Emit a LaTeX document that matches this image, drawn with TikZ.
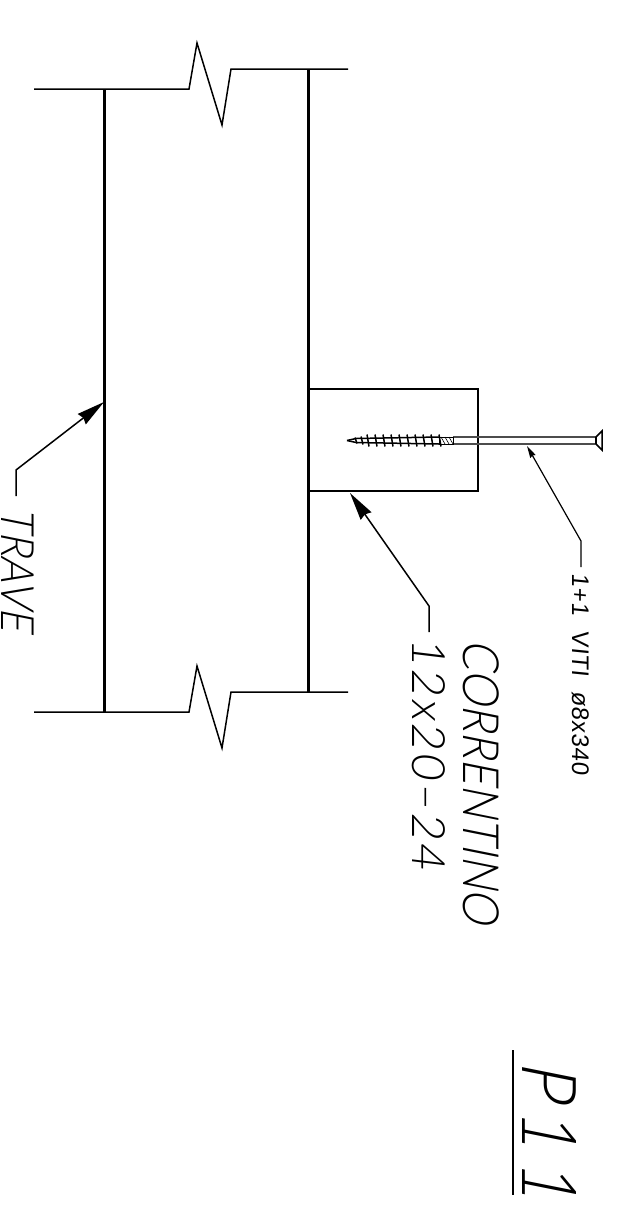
\documentclass[tikz,border=0pt]{standalone}
\usepackage{fontspec}
\usepackage{tikz}
\usetikzlibrary{arrows.meta}
\newfontfamily\cadfont[FakeSlant=0.2, FakeStretch=0.89]{Lato Light}
\newfontfamily\numfont[FakeSlant=0.12, LetterSpace=7]{Lato Light}
\newfontfamily\smallfont[FakeSlant=0.1, LetterSpace=3]{Liberation Sans}

\begin{document}
\begin{tikzpicture}[
            x=0.5pt,
            y=-0.5pt,
            declare function={
                BeamA = 104;
                BeamB = 308;
                LeftEnd = 34;
                RightEnd = 348;
                TopA = 89;
                TopB = 69;
                BotA = 712;
                BotB = 692;
                ScrewY = 440.5;
            },
            beam/.style={line width=1.5pt},
            thin line/.style={line width=0.75pt},
            leader/.style={line width=0.75pt, -{Stealth[length=14pt, width=6.5pt, inset=1pt]}},
            small leader/.style={line width=0.6pt, -{Stealth[length=6pt, width=3pt, inset=0.5pt]}},
            cad label/.style={rotate=-90, anchor=base west, inner sep=0pt, font=\cadfont}
        ]
            \useasboundingbox (0, 0) rectangle (637, 1216);

            % beam edges
            \draw[beam] (BeamA, TopA) -- (BeamA, BotA);
            \draw[beam] (BeamB, TopB) -- (BeamB, BotB);

            % break lines
            \foreach \ya/\yb in {TopA/TopB, BotA/BotB} {
                \draw[thin line] (LeftEnd, \ya) -- (189, \ya) -- (197, {\yb - 26})
                    -- (222, {\yb + 56}) -- (231, \yb) -- (RightEnd, \yb);
            }

            % purlin
            \draw[thin line] (BeamB, 389) -- (478, 389) -- (478, 491) -- (BeamB, 491);

            % screw shank and head
            \draw[thin line, draw=black!70] (453, {ScrewY - 3.5}) -- (596, {ScrewY - 3.5});
            \draw[thin line, draw=black!70] (453, {ScrewY + 3.5}) -- (596, {ScrewY + 3.5});
            \draw[thin line] (596, {ScrewY - 3.5}) -- (596, {ScrewY + 3.5});
            \draw[thin line] (596, {ScrewY - 3.5}) -- (602, {ScrewY - 9.5}) -- (602, {ScrewY + 9.5}) -- (596, {ScrewY + 3.5});

            % screw thread
            \draw[line width=0.4pt] (439, {ScrewY - 3.5}) -- (453, {ScrewY - 3.5}) -- (453, {ScrewY + 3.5}) -- (439, {ScrewY + 3.5}) -- cycle;
            \foreach \k in {0,1,2} {
                \draw[line width=0.3pt] ({441 + 4 * \k}, {ScrewY - 3.5}) -- ({445 + 4 * \k}, {ScrewY + 3.5});
            }
            \foreach \x in {368,376,...,440} {
                \draw[line width=0.75pt] ({\x - 1}, {ScrewY - 6}) -- ({\x + 1}, {ScrewY + 6});
            }
            \draw[thin line] (347, ScrewY) -- (356, {ScrewY - 2}) -- (439, {ScrewY - 3.5});
            \draw[thin line] (347, ScrewY) -- (356, {ScrewY + 2}) -- (439, {ScrewY + 3.5});
            \draw[line width=0.75pt] (355, {ScrewY - 3}) -- (357, {ScrewY + 3});
            \draw[line width=0.75pt] (361, {ScrewY - 4}) -- (363, {ScrewY + 4});

            % labels
            \node[cad label, font=\cadfont\fontsize{23}{23}\selectfont] (trave) at (2, 507) {TRAVE};
            \node[cad label, font=\cadfont\fontsize{25}{25}\selectfont] (correntino) at (463, 639) {CORRENTINO};
            \node[cad label, font=\numfont\fontsize{23}{23}\selectfont] (size) at (412, 638) {12x20–24};
            \node[cad label, font=\smallfont\fontsize{12}{12}\selectfont] (viti) at (572, 573) {1+1\ \ VITI\ \ ø8x340};
            \node[cad label, font=\cadfont\fontsize{38}{38}\selectfont] (pnum) at (522, 1060) {P\kern5pt 1\kern6pt 1};

            % leaders
            \coordinate (trave tip) at (BeamA, 402);
            \coordinate (trave end) at (16, 496);
            \coordinate (size tip) at (350, 493);
            \coordinate (size end) at (429, 632);
            \coordinate (viti tip) at (527, 446);
            \coordinate (viti end) at (581, 567);

            \draw[leader] (trave end) -- (16, 470) -- (trave tip);
            \draw[leader] (size end) -- (429, 606) -- (size tip);
            \draw[small leader] (viti end) -- (581, 541) -- (viti tip);

            % underline of the title
            \coordinate (pnum a) at (513, 1050);
            \coordinate (pnum b) at (513, 1195);
            \draw[line width=1.2pt] (pnum a) -- (pnum b);
        \end{tikzpicture}
\end{document}
